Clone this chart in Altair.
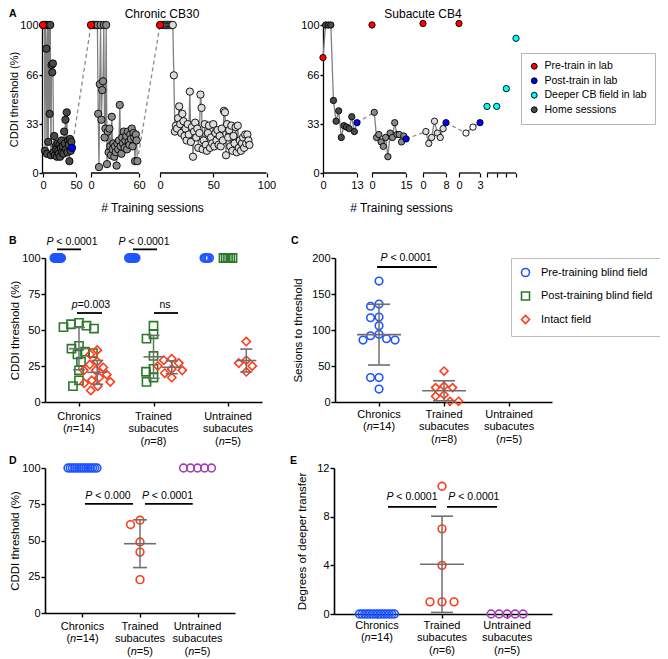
import altair as alt
import numpy as np
import pandas as pd

# ================= values =================
# Panel A (left) - Chronic CB30: CDDI threshold (%) per training session, 3 training blocks
CB30_PRE = [100, 100, 100]
CB30_HOME_1 = [100, 100, 15, 100, 84, 13, 100, 21, 100, 40, 100, 12, 73, 68, 74, 14, 25, 12, 18, 16,
               11, 20, 15, 13, 19, 11, 17, 22, 14, 18, 13, 28, 20, 36, 16, 41, 14, 22, 19, 8, 23, 15, 21]
CB30_HOME_2 = [100, 100, 100, 100, 100, 100, 100, 100, 40, 4, 60, 100, 36, 56, 62, 100, 24, 30, 100, 6,
               28, 14, 30, 18, 12, 38, 16, 20, 11, 18, 14, 5, 20, 16, 22, 46, 18, 13, 24, 20,
               28, 17, 22, 25, 16, 28, 21, 19, 26, 23, 30, 18, 27, 24, 8, 26, 22, 8]
CB30_HOME_3 = [100, 100, 100, 100, 100, 100, 100, 100, 100, 100, 100, 100,
               66, 28, 32, 30, 37, 45, 33, 27, 40, 35, 25, 30, 22, 33, 26, 55, 21, 31, 11, 28,
               34, 24, 30, 17, 27, 53, 44, 16, 22, 33, 19, 15, 27, 32, 17, 24, 20, 33, 18, 27,
               22, 29, 19, 25, 18, 30, 22, 42, 41, 12, 33, 24, 29, 18, 32, 15, 25, 20, 31, 14,
               32, 17, 22, 15, 20, 24, 17, 26, 20, 26, 22, 19]
CB30_POST = [17, None, None]
CB30_PRE_LINKED = [True, True, True]
CB30_TICKS = [[0, 50], [0, 60], [0, 50, 100]]

# Panel A (right) - Subacute CB4
CB4_PRE = [78, 100, 101, 101]
CB4_PRE_LINKED = [True, False, False, False]
CB4_HOME_1 = [100, 100, 100, 49, 35, 42, 24, 32, 31, 30, 38, 28]
CB4_HOME_2 = [41, 24, 26, 21, 18, 24, 11, 27, 24, 34, 26, 26, 21, 25]
CB4_HOME_3 = [28, 20, 24, 35, 27, 24, 30]
CB4_HOME_4 = [27, 31]
CB4_POST = [34, 23, 34, 34]
CB4_DEEPER = [45, 45, 57, 91]
CB4_TICKS = [[0, 13], [0, 15], [0, 8], [0, 3], [0, 1, 2, 3]]
CB4_LABELED = [True, True, True, True, False]

A_KEYS = ["Pre-train in lab", "Post-train in lab", "Deeper CB field in lab", "Home sessions",
          "Home block 2", "Home block 3", "Home block 4"]

SERIES = ["Pre-training blind field", "Post-training blind field", "Intact field"]
LABELS_B = ["Chronics\n(n=14)", "Trained\nsubacutes\n(n=8)", "Untrained\nsubacutes\n(n=5)"]
LABELS_D = ["Chronics\n(n=14)", "Trained\nsubacutes\n(n=5)", "Untrained\nsubacutes\n(n=5)"]
LABELS_E = ["Chronics\n(n=14)", "Trained\nsubacutes\n(n=6)", "Untrained\nsubacutes\n(n=5)"]

# Panel B: CDDI threshold (%)
B_PRE = [[100] * 14, [100] * 8, [100] * 5]
B_POST = [[55, 54, 53, 52, 51, 39, 37, 35, 34, 33, 28, 22, 15, 11],
          [53, 47, 44, 32, 23, 21, 17, 14],
          [100] * 5]
B_INTACT = [[36, 33, 28, 26, 24, 22, 22, 19, 17, 15, 14, 13, 11, 8],
            [30, 29, 27, 25, 23, 22, 20, 17],
            [42, 29, 27, 25, 21]]
# Panel C: sessions to threshold
C_PRE = [[168, 136, 133, 118, 117, 106, 94, 92, 88, 86, 86, 34, 34, 18], [], []]
C_INTACT = [[], [43, 22, 20, 20, 10, 8, 1, 1], []]
# Panel D: CDDI threshold (%)
D_VALUES = [[100] * 14, [64, 61, 49, 42, 23], [100] * 5]
# Panel E: degrees of deeper transfer
E_VALUES = [[0] * 14, [10.5, 7, 4, 1, 1, 1], [0] * 5]

# annotations: (italic prefix, rest, text centre x, text y, line x1, line x2, line y)
B_ANN = [("P", "< 0.0001", -0.094, 111, -0.295, 0.027, 106), ("P", "< 0.0001", 0.872, 111, 0.725, 1.047, 106),
         ("p", "=0.003", 0.161, 67.4, -0.027, 0.309, 61.8), ("", "ns", 1.154, 67.4, 1.007, 1.329, 61.8)]
C_ANN = [("P", "< 0.0001", 0.415, 200, -0.03, 0.89, 187.5)]
D_ANN = [("P", "< 0.000", 0.443, 80.7, 0.043, 0.878, 75.2), ("P", "< 0.0001", 1.478, 80.7, 1.087, 1.917, 75.2)]
E_ANN = [("P", "< 0.0001", 0.538, 9.6, 0.17, 0.91, 8.8), ("P", "< 0.0001", 1.49, 9.6, 1.077, 1.846, 8.8)]

# ================= layout / style =================
W, H = 652, 650
M = 8
FONT = "Liberation Sans"
ANN_FS = 10.5
LAB_FS = 11
LAB_LH = 12.8
BLUE, GREEN, RED, PURPLE, CYAN = "#1f55ff", "#2b7a2b", "#ff3b1a", "#a63db8", "#00ffff"
EB = "#6f6f6f"
CHAR_EM = {"P": 0.667, "p": 0.556, " ": 0.278, "<": 0.584, "=": 0.584, ".": 0.278, "n": 0.556, "s": 0.5,
           "(": 0.333, ")": 0.333}


def text_w(s, fs):
    return sum(CHAR_EM.get(c, 0.556) for c in s) * fs


def cx(v):
    return v - M


def cy(v):
    return v - M


A_FILLS = ["#ff0000", "#0000ff", CYAN, "#4a4a4a", "#8a8a8a", "#dcdcdc", "#ffffff"]
CB30_X0, CB30_K = [43, 91, 160], [0.66, 0.8, 1.065]
CB4_X0, CB4_K = [323, 372, 423, 459, 487], [2.615, 2.27, 2.875, 7.0, 9.67]

units = []


def a_frame(pre, homes, posts, linked, home_keys, x0, k, deeper=None):
    rows = []
    for b, home in enumerate(homes):
        rows.append(dict(block=b, s=0, v=pre[b], key=A_KEYS[0], linked=linked[b], z=2))
        for i, v in enumerate(home):
            rows.append(dict(block=b, s=i + 1, v=v, key=home_keys[b], linked=True, z=0))
        if posts[b] is not None:
            rows.append(dict(block=b, s=len(home) + 1, v=posts[b], key=A_KEYS[1], linked=True, z=1))
    if deeper is not None:
        b = len(homes)
        for i, v in enumerate(deeper):
            rows.append(dict(block=b, s=i, v=v, key=A_KEYS[2], linked=False, z=1))
    df = pd.DataFrame(rows)
    df["xp"] = [cx(x0[b]) + s * k[b] for b, s in zip(df.block, df.s)]
    df = df.sort_values(["z", "block", "s"], kind="stable").reset_index(drop=True)
    return df


def a_connectors(df, nblocks):
    L = df[df.linked]
    rows = []
    for b in range(nblocks - 1):
        a = L[L.block == b].sort_values("s").iloc[-1]
        c = L[L.block == b + 1].sort_values("s").iloc[0]
        rows += [dict(cid=b, o=0, xp=float(a.xp), v=float(a.v)), dict(cid=b, o=1, xp=float(c.xp), v=float(c.v))]
    return pd.DataFrame(rows)


def a_axis(ticks, x0, k, labeled):
    vals, labs, segs = [], [], []
    for b, tk in enumerate(ticks):
        for t in tk:
            vals.append(round(float(cx(x0[b]) + t * k[b]), 3))
            labs.append(str(t) if labeled[b] else "")
        segs.append(dict(x1=float(cx(x0[b])), x2=float(cx(x0[b]) + tk[-1] * k[b]), y0=0))
    parts = [f"abs(datum.value - {v}) < 0.01 ? '{l}'" for v, l in zip(vals, labs)]
    return vals, " : ".join(parts) + " : ''", pd.DataFrame(segs)


def add_a_panel(df, conn, ticks, x0, k, labeled, xdom, yaxis_x, ytitle, legend, size, title, title_x):
    xs = alt.Scale(domain=xdom, range=xdom, nice=False, zero=False)
    ys = alt.Scale(domain=[0, 100], range=[cy(173), cy(25)], nice=False, zero=False)
    vals, expr, segs = a_axis(ticks, x0, k, labeled)
    xaxis = alt.Axis(orient="bottom", offset=cy(173) - H, values=vals, labelExpr=expr, domain=False,
                     tickSize=4, tickWidth=1.2, title="# Training sessions", titlePadding=12,
                     labelFlush=False, labelOverlap=False, labelFontSize=11, titleFontSize=12,
                     labelPadding=2)
    yaxis = alt.Axis(orient="left", offset=-cx(yaxis_x), values=[0, 33, 66, 100], title=ytitle,
                     titlePadding=0, tickSize=3, labelPadding=1, labelFontSize=11, titleFontSize=11,
                     labelOverlap=False, labelFlush=False, domainWidth=1.3)
    fs = alt.Scale(domain=A_KEYS, range=A_FILLS)
    units.append(alt.Chart(segs).mark_rule(color="black", strokeWidth=1.3).encode(
        x=alt.X("x1:Q", scale=xs, axis=xaxis), x2="x2:Q", y=alt.Y("y0:Q", scale=ys, axis=yaxis)))
    units.append(alt.Chart(conn).mark_line(color="#8c8c8c", strokeWidth=1.3, strokeDash=[4, 3]).encode(
        x=alt.X("xp:Q", scale=xs, axis=None), y=alt.Y("v:Q", scale=ys, axis=None),
        detail="cid:N", order="o:Q"))
    units.append(alt.Chart(df[df.linked]).mark_line(color="#808080", strokeWidth=1.3).encode(
        x=alt.X("xp:Q", scale=xs, axis=None), y=alt.Y("v:Q", scale=ys, axis=None),
        detail="block:N", order="s:Q"))
    units.append(alt.Chart(df).mark_circle(size=size, stroke="black", strokeWidth=0.9, opacity=1).encode(
        x=alt.X("xp:Q", scale=xs, axis=None), y=alt.Y("v:Q", scale=ys, axis=None),
        fill=alt.Fill("key:N", scale=fs, legend=legend)))
    units.append(alt.Chart(pd.DataFrame({"t": [title], "px": [cx(title_x)], "py": [cy(14)]})).mark_text(
        fontSize=12, font=FONT, baseline="middle").encode(
        x=alt.X("px:Q", scale=None, axis=None), y=alt.Y("py:Q", scale=None, axis=None), text="t:N"))


def spread(vals, ypx, dmin, half):
    vals = np.asarray(vals, dtype=float)
    n = len(vals)
    if n == 1:
        return np.zeros(1)
    if np.ptp(vals) == 0:
        return np.linspace(-half, half, n)
    order = np.argsort(-vals, kind="stable")
    cands = sorted(np.arange(-40, 40.25, 0.5), key=lambda c: (abs(c), c))
    placed, offs = [], np.zeros(n)
    for i in order:
        y = vals[i] * ypx
        for c in cands:
            if all((c - px) ** 2 + (y - py) ** 2 >= dmin ** 2 for px, py in placed):
                break
        placed.append((c, y))
        offs[i] = c
    return offs


def cat_frames(series_data, offsets, ypx, dmin, step, halves):
    rows, stats = [], []
    for name, per_group in series_data:
        for g, vals in enumerate(per_group):
            if len(vals) == 0:
                continue
            offs = spread(vals, ypx, dmin, halves.get((name, g), 6))
            for v, o in zip(vals, offs):
                rows.append(dict(series=name, szk="s_" + name, g=g, v=float(v),
                                 xq=float(g + offsets[name] + o / step)))
            if np.ptp(vals) > 0:
                m, sd = float(np.mean(vals)), float(np.std(vals, ddof=1))
                stats.append(dict(series=name, g=g, xq=float(g + offsets[name]), mean=m, lo=m - sd, hi=m + sd))
    return pd.DataFrame(rows), pd.DataFrame(stats)


def add_cat_panel(pts, stats, ann, xdom, xr, ydom, yr, yvals, ytitle, tpad, labels,
                  stroke_sc, shape_sc, size_sc, legend, mean_w, cap_w, label_dy):
    xs = alt.Scale(domain=xdom, range=xr, nice=False, zero=False)
    ys = alt.Scale(domain=ydom, range=yr, nice=False, zero=False)
    step = (xr[1] - xr[0]) / (xdom[1] - xdom[0])
    ypx = (yr[0] - yr[1]) / (ydom[1] - ydom[0])
    xaxis = alt.Axis(orient="bottom", offset=yr[0] - H, values=[0, 1, 2], labels=False, title=None,
                     tickSize=4, domainWidth=1.6)
    yaxis = alt.Axis(orient="left", offset=-xr[0], values=yvals, title=ytitle, titlePadding=tpad,
                     tickSize=4, labelPadding=1, labelFontSize=11, titleFontSize=11.5, labelOverlap=False,
                     labelFlush=False, domainWidth=1.6)

    def X(f, ax=None):
        return alt.X(f, scale=xs, axis=ax)

    def Y(f, ax=None):
        return alt.Y(f, scale=ys, axis=ax)

    units.append(alt.Chart(pts).mark_point(filled=False, strokeWidth=1.6, opacity=1).encode(
        x=X("xq:Q", xaxis), y=Y("v:Q", yaxis),
        stroke=alt.Stroke("series:N", scale=stroke_sc, legend=legend),
        shape=alt.Shape("series:N", scale=shape_sc, legend=legend),
        size=alt.Size("szk:N", scale=size_sc, legend=None)))
    if len(stats):
        caps = pd.concat([stats.assign(cy_=stats.lo), stats.assign(cy_=stats.hi)])
        units.append(alt.Chart(stats).mark_rule(color=EB, strokeWidth=1.5).encode(
            x=X("xq:Q"), y=Y("lo:Q"), y2="hi:Q"))
        units.append(alt.Chart(stats).mark_tick(orient="horizontal", color=EB, thickness=1.6, size=mean_w,
                                                opacity=1).encode(x=X("xq:Q"), y=Y("mean:Q")))
        units.append(alt.Chart(caps).mark_tick(orient="horizontal", color=EB, thickness=1.6, size=cap_w,
                                               opacity=1).encode(x=X("xq:Q"), y=Y("cy_:Q")))
    # significance bars and their italic-P labels
    lines, ital, rest = [], [], []
    for pre, txt, tx, ty, x1, x2, ly in ann:
        lines.append(dict(x1=x1, x2=x2, ly=ly))
        gap = text_w(" ", ANN_FS) if (pre and txt.startswith("<")) else 0.0
        total = text_w(pre, ANN_FS) + gap + text_w(txt, ANN_FS)
        left = tx - total / 2 / step
        if pre:
            ital.append(dict(t=pre, xt=left, ty=ty))
        rest.append(dict(t=txt, xt=left + (text_w(pre, ANN_FS) + gap) / step, ty=ty))
    units.append(alt.Chart(pd.DataFrame(lines)).mark_rule(color="black", strokeWidth=1.8).encode(
        x=X("x1:Q"), x2="x2:Q", y=Y("ly:Q")))
    if ital:
        units.append(alt.Chart(pd.DataFrame(ital)).mark_text(
            fontSize=ANN_FS, font=FONT, fontStyle="italic", baseline="middle", align="left").encode(
            x=X("xt:Q"), y=Y("ty:Q"), text="t:N"))
    units.append(alt.Chart(pd.DataFrame(rest)).mark_text(
        fontSize=ANN_FS, font=FONT, baseline="middle", align="left").encode(
        x=X("xt:Q"), y=Y("ty:Q"), text="t:N"))
    # category labels: head lines normal, last line "(n=..)" with an italic n
    heads, tails_n, tails_i = [], [], []
    for g, lab in enumerate(labels):
        lines_ = lab.split("\n")
        heads.append(dict(g=g, lab="\n".join(lines_[:-1]), y0=ydom[0]))
        tail = lines_[-1]
        ty = ydom[0] - (label_dy + (len(lines_) - 1) * LAB_LH) / ypx
        left = g - text_w(tail, LAB_FS) / 2 / step
        tails_n.append(dict(t="(", xt=left, ty=ty))
        tails_i.append(dict(t="n", xt=left + text_w("(", LAB_FS) / step, ty=ty))
        tails_n.append(dict(t=tail[2:], xt=left + text_w("(n", LAB_FS) / step, ty=ty))
    units.append(alt.Chart(pd.DataFrame(heads)).mark_text(
        fontSize=LAB_FS, font=FONT, baseline="top", lineBreak="\n", lineHeight=LAB_LH, dy=label_dy).encode(
        x=X("g:Q"), y=Y("y0:Q"), text="lab:N"))
    units.append(alt.Chart(pd.DataFrame(tails_n)).mark_text(
        fontSize=LAB_FS, font=FONT, baseline="top", align="left").encode(
        x=X("xt:Q"), y=Y("ty:Q"), text="t:N"))
    units.append(alt.Chart(pd.DataFrame(tails_i)).mark_text(
        fontSize=LAB_FS, font=FONT, fontStyle="italic", baseline="top", align="left").encode(
        x=X("xt:Q"), y=Y("ty:Q"), text="t:N"))


# ---------------- Panel A ----------------
cb30 = a_frame(CB30_PRE, [CB30_HOME_1, CB30_HOME_2, CB30_HOME_3], CB30_POST, CB30_PRE_LINKED,
               A_KEYS[3:6], CB30_X0, CB30_K)
cb30_conn = a_connectors(cb30, 3)
cb4 = a_frame(CB4_PRE, [CB4_HOME_1, CB4_HOME_2, CB4_HOME_3, CB4_HOME_4], CB4_POST, CB4_PRE_LINKED,
              A_KEYS[3:7], CB4_X0, CB4_K, deeper=CB4_DEEPER)
cb4_conn = a_connectors(cb4[cb4.block < 4], 4)

a_legend = alt.Legend(values=A_KEYS[:4], orient="none", legendX=cx(521), legendY=cy(53), title=None,
                      strokeColor="#b5b5b5", padding=8, symbolType="circle", symbolSize=34,
                      symbolStrokeColor="black", symbolStrokeWidth=1, labelFontSize=10.5,
                      labelFont=FONT, rowPadding=3.5, labelOffset=5, fillColor="white", labelColor="black")

add_a_panel(cb30, cb30_conn, CB30_TICKS, CB30_X0, CB30_K, [True] * 3, [cx(36), cx(268)], 42,
            "CDDI threshold (%)", None, 54, "Chronic CB30", 162)
add_a_panel(cb4, cb4_conn, CB4_TICKS, CB4_X0, CB4_K, CB4_LABELED, [cx(285), cx(517)], 323,
            None, a_legend, 40, "Subacute CB4", 423)

# ---------------- Panels B - E ----------------
shape_sc = alt.Scale(domain=SERIES, range=["circle", "square", "diamond"])
stroke_sc = alt.Scale(domain=SERIES, range=[BLUE, GREEN, RED])
size_b = alt.Scale(domain=["s_" + s for s in SERIES], range=[64, 70, 95])
size_c = alt.Scale(domain=["s_" + s for s in SERIES], range=[58, 64, 80])
c_legend = alt.Legend(orient="none", legendX=cx(511), legendY=cy(258), title=None, strokeColor="#bdbdbd",
                      padding=9, labelFontSize=11, labelFont=FONT, rowPadding=8.5, symbolStrokeWidth=1.6,
                      symbolSize=64, labelOffset=10, labelColor="black", fillColor="white",
                      symbolFillColor="transparent")

b_pts, b_stats = cat_frames([(SERIES[0], B_PRE), (SERIES[1], B_POST), (SERIES[2], B_INTACT)],
                            {SERIES[0]: -0.285, SERIES[1]: 0.0, SERIES[2]: 0.245}, 1.44, 8, 74.5,
                            {(SERIES[0], 0): 3.5, (SERIES[0], 1): 3.5, (SERIES[0], 2): 2.5,
                             (SERIES[1], 2): 4.5})
add_cat_panel(b_pts, b_stats, B_ANN, [-0.456, 2.456], [cx(45), cx(262)], [0, 100], [cy(402), cy(258)],
              [0, 25, 50, 75, 100], "CDDI threshold (%)", 1, LABELS_B, stroke_sc, shape_sc,
              size_b, None, 20, 12, 8.5)

c_pts, c_stats = cat_frames([(SERIES[0], C_PRE), (SERIES[2], C_INTACT)],
                            {SERIES[0]: 0.0, SERIES[2]: 0.0}, 0.72, 8.5, 65, {})
add_cat_panel(c_pts, c_stats, C_ANN, [-0.677, 2.66], [cx(335), cx(552)], [0, 200], [cy(402), cy(258)],
              [0, 50, 100, 150, 200], "Sesions to threshold", 8, LABELS_B, stroke_sc, shape_sc,
              size_c, c_legend, 44, 22, 6.5)

DE = ["Chronics", "Trained subacutes", "Untrained subacutes"]
de_stroke = alt.Scale(domain=DE, range=[BLUE, RED, PURPLE])
de_shape = alt.Scale(domain=DE, range=["circle", "circle", "circle"])
de_size = alt.Scale(domain=["s_" + n for n in DE], range=[60, 60, 60])

d_pts, d_stats = cat_frames([(DE[g], [D_VALUES[g] if i == g else [] for i in range(3)]) for g in range(3)],
                            {n: 0.0 for n in DE}, 1.45, 10, 57.5,
                            {(DE[0], 0): 14.5, (DE[2], 2): 14})
add_cat_panel(d_pts, d_stats, D_ANN, [-0.652, 2.652], [cx(45), cx(235)], [0, 100], [cy(613), cy(468)],
              [0, 25, 50, 75, 100], "CDDI threshold (%)", 1, LABELS_D, de_stroke, de_shape, de_size,
              None, 32, 14, 7.5)

e_pts, e_stats = cat_frames([(DE[g], [E_VALUES[g] if i == g else [] for i in range(3)]) for g in range(3)],
                            {n: 0.0 for n in DE}, 12.17, 12, 65,
                            {(DE[0], 0): 17.5, (DE[2], 2): 16})
add_cat_panel(e_pts, e_stats, E_ANN, [-0.66, 2.69], [cx(334), cx(552)], [0, 12], [cy(614), cy(468)],
              [0, 4, 8, 12], "Degrees of deeper transfer", 9, LABELS_E, de_stroke, de_shape, de_size,
              None, 44, 22, 5.5)

units.append(alt.Chart(pd.DataFrame({"t": ["A", "B", "C", "D", "E"],
                                     "px": [cx(9), cx(9), cx(291), cx(9), cx(290)],
                                     "py": [cy(14), cy(241), cy(241), cy(461), cy(461)]})).mark_text(
    fontSize=10.5, fontWeight="bold", font=FONT, baseline="middle", align="left").encode(
    x=alt.X("px:Q", scale=None, axis=None), y=alt.Y("py:Q", scale=None, axis=None), text="t:N"))

chart = alt.layer(*units).resolve_scale(
    x="independent", y="independent", fill="independent", stroke="independent",
    shape="independent", size="independent"
).properties(
    width=W, height=H, padding=0, autosize=alt.AutoSizeParams(type="none")
).configure_view(stroke=None).configure_axis(
    grid=False, domainColor="black", tickColor="black", tickWidth=1.4, labelColor="black",
    titleColor="black", labelFont=FONT, titleFont=FONT, titleFontWeight="normal"
).configure_text(font=FONT)

chart.save("out.html", embed_options={"renderer": "svg", "actions": False})
